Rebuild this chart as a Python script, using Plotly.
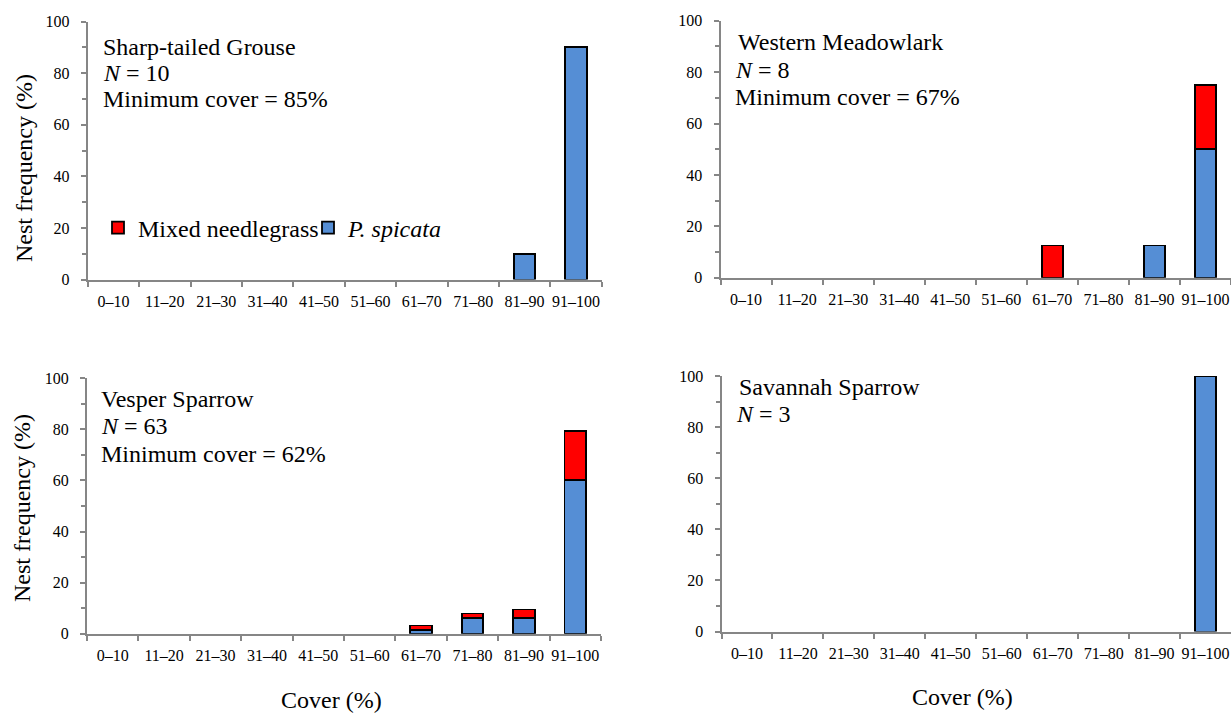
import plotly.graph_objects as go

# Cover classes (percent cover of the dominant bunchgrass)
categories = ["0–10", "11–20", "21–30", "31–40", "41–50",
              "51–60", "61–70", "71–80", "81–90", "91–100"]

# Nest frequency (%) per cover class, split by grassland type
grouse_mixed = [0, 0, 0, 0, 0, 0, 0, 0, 0, 0]
grouse_spicata = [0, 0, 0, 0, 0, 0, 0, 0, 10, 90]

meadowlark_mixed = [0, 0, 0, 0, 0, 0, 12.5, 0, 0, 25]
meadowlark_spicata = [0, 0, 0, 0, 0, 0, 0, 0, 12.5, 50]

vesper_mixed = [0, 0, 0, 0, 0, 0, 1.6, 1.6, 3.2, 19.0]
vesper_spicata = [0, 0, 0, 0, 0, 0, 1.6, 6.3, 6.3, 60.3]

savannah_mixed = [0, 0, 0, 0, 0, 0, 0, 0, 0, 0]
savannah_spicata = [0, 0, 0, 0, 0, 0, 0, 0, 0, 100]

panel_titles = ["Sharp-tailed Grouse", "Western Meadowlark",
                "Vesper Sparrow", "Savannah Sparrow"]
panel_n = [10, 8, 63, 3]
panel_min_cover = [85, 67, 62, None]

series_names = ["Mixed needlegrass", "<i>P. spicata</i>"]

W, H = 1231, 713
FONT = "Liberation Serif, Times New Roman, serif"
BLUE = "#558ED5"
RED = "#FF0000"
AXIS_GREY = "#868686"


def px_x(x):
    return x / W


def px_y(y):
    return 1 - y / H


# pixel boxes for each panel: (left, right, top, bottom)
boxes = [
    (87.7, 601.7, 21.5, 279.5),
    (720.5, 1231, 20.7, 277.7),
    (87.0, 601.0, 378.3, 633.7),
    (721.5, 1231, 376.0, 631.5),
]

panels = [
    (grouse_mixed, grouse_spicata),
    (meadowlark_mixed, meadowlark_spicata),
    (vesper_mixed, vesper_spicata),
    (savannah_mixed, savannah_spicata),
]


def blank_zero(vals):
    return [v if v else None for v in vals]


fig = go.Figure()

for i, (mixed, spicata) in enumerate(panels):
    sfx = "" if i == 0 else str(i + 1)
    xa, ya = "x" + sfx, "y" + sfx
    fig.add_trace(go.Bar(
        x=categories, y=blank_zero(spicata), name=series_names[1],
        marker=dict(color=BLUE, line=dict(color="black", width=1.8)),
        xaxis=xa, yaxis=ya, showlegend=(i == 0), legendgroup="spicata",
        cliponaxis=False, hoverinfo="x+y+name",
    ))
    fig.add_trace(go.Bar(
        x=categories, y=blank_zero(mixed), name=series_names[0],
        marker=dict(color=RED, line=dict(color="black", width=1.8)),
        xaxis=xa, yaxis=ya, showlegend=(i == 0), legendgroup="mixed",
        cliponaxis=False, hoverinfo="x+y+name",
    ))

    left, right, top, bottom = boxes[i]
    xaxis = dict(
        domain=[px_x(left), min(1.0, px_x(right))],
        anchor=ya, type="category", categoryorder="array",
        categoryarray=categories, automargin=False,
        showline=True, linecolor=AXIS_GREY, linewidth=2,
        ticks="outside", tickson="boundaries", ticklen=5,
        tickcolor=AXIS_GREY, tickwidth=1.5, tickangle=0,
        tickfont=dict(family=FONT, size=16, color="black"),
        ticklabelstandoff=6,
        showgrid=False, zeroline=False, fixedrange=True,
    )
    yaxis = dict(
        domain=[px_y(bottom), px_y(top)],
        anchor=xa, range=[0, 100], dtick=20, automargin=False,
        showline=True, linecolor=AXIS_GREY, linewidth=2,
        ticks="outside", ticklen=5, tickcolor=AXIS_GREY, tickwidth=1.5,
        minor=dict(dtick=10, ticks="outside", ticklen=4,
                   tickcolor=AXIS_GREY, tickwidth=1.5, showgrid=False),
        tickfont=dict(family=FONT, size=16, color="black"),
        ticklabelstandoff=8,
        showgrid=False, zeroline=False, fixedrange=True,
    )
    fig.layout["xaxis" + sfx] = xaxis
    fig.layout["yaxis" + sfx] = yaxis

annotations = []

# species label block in the upper-left of each panel (x, first-line y, spacing)
label_pos = [
    (100.5, 46.9, 25.9),
    (733, 42.4, 27.2),
    (99, 398.9, 27.3),
    (734, 386.9, 26.7),
]
for i, (x0, y0, dy) in enumerate(label_pos):
    lines = [panel_titles[i], f"<i>N</i> = {panel_n[i]}"]
    if panel_min_cover[i] is not None:
        lines.append(f"Minimum cover = {panel_min_cover[i]}%")
    for k, txt in enumerate(lines):
        xk = x0 + (3 if (i in (1, 3) and k == 0) else 0)
        annotations.append(dict(
            text=txt, xref="paper", yref="paper",
            x=px_x(xk), y=px_y(y0 + k * dy),
            xanchor="left", yanchor="middle", showarrow=False,
            font=dict(family=FONT, size=24, color="black"),
        ))

# axis titles
for (xc, yc) in [(24, 168), (22, 508)]:
    annotations.append(dict(
        text="Nest frequency (%)", xref="paper", yref="paper",
        x=px_x(xc), y=px_y(yc), xanchor="center", yanchor="middle",
        textangle=-90, showarrow=False,
        font=dict(family=FONT, size=24, color="black"),
    ))
for (xc, yc) in [(331, 700), (962, 697)]:
    annotations.append(dict(
        text="Cover (%)", xref="paper", yref="paper",
        x=px_x(xc), y=px_y(yc), xanchor="center", yanchor="middle",
        showarrow=False,
        font=dict(family=FONT, size=24, color="black"),
    ))

fig.update_layout(
    width=W, height=H, autosize=False,
    margin=dict(l=0, r=0, t=0, b=0, autoexpand=False),
    paper_bgcolor="white", plot_bgcolor="white",
    barmode="stack", bargap=0.58,
    showlegend=True,
    legend=dict(
        orientation="h", traceorder="reversed",
        x=px_x(98), y=px_y(228), xanchor="left", yanchor="middle",
        font=dict(family=FONT, size=24, color="black"),
        bgcolor="rgba(0,0,0,0)", itemwidth=30,
        entrywidth=165, entrywidthmode="pixels",
        tracegroupgap=0,
    ),
    annotations=annotations,
)

fig.write_html("out.html")
